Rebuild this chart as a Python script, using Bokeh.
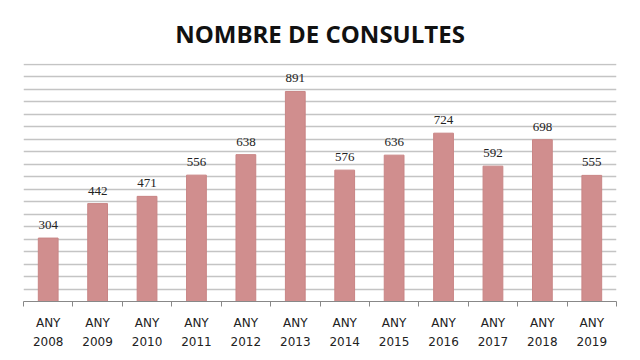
from bokeh.plotting import figure
from bokeh.models import Range1d, FixedTicker, SingleIntervalTicker, ColumnDataSource, LabelSet, Title
from bokeh.embed import file_html
from bokeh.resources import INLINE

years = [2008, 2009, 2010, 2011, 2012, 2013, 2014, 2015, 2016, 2017, 2018, 2019]
consultes = [304, 442, 471, 556, 638, 891, 576, 636, 724, 592, 698, 555]
prefix = "ANY"

src = ColumnDataSource(dict(x=years, top=consultes, lab=[str(v) for v in consultes]))

p = figure(width=631, height=352, output_backend="svg", toolbar_location=None,
           x_range=Range1d(years[0] - 0.5, years[-1] + 0.5), y_range=Range1d(50, 1003),
           min_border_left=23, min_border_right=15, min_border_top=63, min_border_bottom=49)
p.title = Title(text="NOMBRE DE CONSULTES", align="center", text_font="Open Sans",
                text_font_size="24px", text_font_style="bold", text_color="#111111",
                offset=0, standoff=28)
p.outline_line_color = None
p.background_fill_color = "white"
p.border_fill_color = "white"

p.vbar(x="x", top="top", bottom=0, width=0.4, source=src, fill_color="#d08e8e",
       line_color="#c98585", line_width=1)

p.add_layout(LabelSet(x="x", y="top", text="lab", source=src, text_align="center",
                      text_baseline="bottom", y_offset=9, text_font="DejaVu Sans",
                      text_font_size="13px", text_color="#222222"))

p.yaxis.visible = False
p.ygrid.ticker = SingleIntervalTicker(interval=50)
p.ygrid.grid_line_color = "#c4c4c4"
p.ygrid.grid_line_width = 1.6
p.xgrid.grid_line_color = None

ax = p.xaxis[0]
ax.ticker = FixedTicker(ticks=years, minor_ticks=[y - 0.5 for y in years] + [years[-1] + 0.5])
ax.major_label_overrides = {y: f"{prefix}\n{y}" for y in years}
ax.major_tick_line_color = None
ax.minor_tick_line_color = "#888888"
ax.minor_tick_out = 5
ax.minor_tick_in = 0
ax.axis_line_color = "#888888"
ax.major_label_standoff = 8
ax.major_label_text_font = "DejaVu Sans"
ax.major_label_text_font_size = "12px"
ax.major_label_text_line_height = 1.4
ax.major_label_text_color = "#222222"

open("out.html", "w").write(file_html(p, INLINE))
